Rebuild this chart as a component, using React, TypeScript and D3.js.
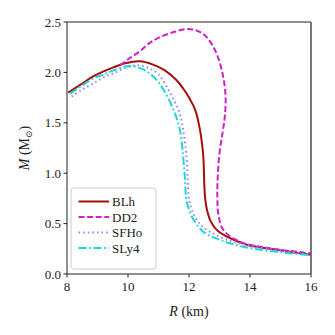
import React from "react";
import * as d3 from "d3";

// mass-radius relations
const blhR = [8.04, 8.5, 8.86, 9.2, 9.52, 9.9, 10.39, 10.8, 11.21, 11.6, 11.81, 12.02, 12.2, 12.36, 12.47, 12.5, 12.53, 12.58, 12.7, 12.9, 13.24, 13.9, 14.88, 16.0];
const blhM = [1.8, 1.89, 1.96, 2.01, 2.05, 2.09, 2.11, 2.08, 2.02, 1.92, 1.84, 1.74, 1.63, 1.43, 1.16, 0.9, 0.75, 0.65, 0.53, 0.44, 0.37, 0.29, 0.24, 0.19];

const dd2R = [9.74, 10.05, 10.39, 10.7, 11.05, 11.5, 11.92, 12.3, 12.58, 12.9, 13.12, 13.2, 13.17, 13.1, 13.0, 12.94, 12.93, 12.96, 13.12, 13.67, 14.66, 16.0];
const dd2M = [2.07, 2.14, 2.21, 2.29, 2.35, 2.4, 2.43, 2.41, 2.35, 2.19, 1.96, 1.75, 1.55, 1.4, 1.2, 0.95, 0.75, 0.6, 0.44, 0.32, 0.255, 0.205];

const sfhoR = [8.15, 8.5, 8.86, 9.2, 9.52, 9.96, 10.35, 10.7, 11.0, 11.32, 11.65, 11.81, 11.92, 11.96, 12.0, 12.14, 12.35, 12.58, 13.24, 14.0, 15.0, 16.0];
const sfhoM = [1.76, 1.83, 1.89, 1.95, 1.99, 2.05, 2.07, 2.04, 1.98, 1.83, 1.63, 1.43, 1.16, 0.93, 0.75, 0.6, 0.5, 0.44, 0.34, 0.28, 0.23, 0.19];

const sly4R = [8.1, 8.5, 8.86, 9.2, 9.52, 9.96, 10.2, 10.5, 10.83, 11.16, 11.49, 11.7, 11.81, 11.87, 11.92, 12.09, 12.47, 13.0, 13.78, 14.88, 16.0];
const sly4M = [1.79, 1.87, 1.94, 1.98, 2.02, 2.06, 2.06, 2.03, 1.96, 1.83, 1.63, 1.43, 1.16, 0.93, 0.73, 0.57, 0.42, 0.34, 0.27, 0.22, 0.185];

const names = ["BLh", "DD2", "SFHo", "SLy4"];
const xTicks = [8, 10, 12, 14, 16];
const yTicks = [0, 0.5, 1.0, 1.5, 2.0, 2.5];

const series = [
  { name: names[0], r: blhR, m: blhM, color: "#aa0c0c", dash: "none" },
  { name: names[1], r: dd2R, m: dd2M, color: "#cc22cc", dash: "6,2.6" },
  { name: names[2], r: sfhoR, m: sfhoM, color: "#8c8cff", dash: "1.6,3" },
  { name: names[3], r: sly4R, m: sly4M, color: "#22d4d4", dash: "8,2.6,1.8,2.6" },
];

const txt = { fontFamily: '"Liberation Serif", "DejaVu Serif", "Times New Roman", Times, serif' };

export default function App() {
  const left = 67, right = 311, top = 22, bottom = 274;
  const x = d3.scaleLinear().domain([8, 16]).range([left, right]);
  const y = d3.scaleLinear().domain([0, 2.5]).range([bottom, top]);

  const line = d3
    .line<[number, number]>()
    .x(d => x(d[0]))
    .y(d => y(d[1]))
    .curve(d3.curveCatmullRom.alpha(0.5));

  return (
    <svg width={335} height={335} style={{ position: "absolute", left: 0, top: 0 }}>
      <rect width={335} height={335} fill="#fff" />
      <defs>
        <clipPath id="plot">
          <rect x={left} y={top} width={right - left} height={bottom - top} />
        </clipPath>
      </defs>
      <g clipPath="url(#plot)">
        {series.map(s => (
          <path
            key={s.name}
            d={line(s.r.map((r, i) => [r, s.m[i]] as [number, number])) || ""}
            fill="none"
            stroke={s.color}
            strokeWidth={2}
            strokeDasharray={s.dash}
          />
        ))}
      </g>
      {/* spines */}
      <line x1={left} x2={right} y1={top} y2={top} stroke="#222" strokeWidth={1} />
      <line x1={left} x2={left} y1={top} y2={bottom} stroke="#222" strokeWidth={1} />
      <line x1={left} x2={right} y1={bottom} y2={bottom} stroke="#222" strokeWidth={1} />
      <line x1={right} x2={right} y1={top} y2={bottom} stroke="#555" strokeWidth={1.6} />
      {xTicks.map(t => (
        <g key={t}>
          <line x1={x(t)} x2={x(t)} y1={bottom} y2={bottom + 3.5} stroke="#222" />
          <text x={x(t)} y={bottom + 17} textAnchor="middle" style={txt} fontSize={13} fill="#222">
            {t}
          </text>
        </g>
      ))}
      {yTicks.map(t => (
        <g key={t}>
          <line x1={left - 3.5} x2={left} y1={y(t)} y2={y(t)} stroke="#222" />
          <text x={left - 6} y={y(t) + 4.5} textAnchor="end" style={txt} fontSize={13} fill="#222">
            {t.toFixed(1)}
          </text>
        </g>
      ))}
      <text x={(left + right) / 2} y={316} textAnchor="middle" style={txt} fontSize={14} fill="#222">
        <tspan fontStyle="italic">R</tspan> (km)
      </text>
      <text
        transform={`translate(29,${(top + bottom) / 2}) rotate(-90)`}
        textAnchor="middle"
        style={txt}
        fontSize={14}
        fill="#222"
      >
        <tspan fontStyle="italic">M</tspan> (M<tspan fontSize={9} dy={3}>⊙</tspan><tspan dy={-3}>)</tspan>
      </text>
      {/* legend */}
      <rect x={71} y={188} width={85} height={81} rx={3} fill="#fff" fillOpacity={0.8} stroke="#ccc" strokeWidth={1} />
      {series.map((s, i) => {
        const ly = 201.5 + i * 15.5;
        return (
          <g key={s.name}>
            <line x1={78.5} x2={109} y1={ly} y2={ly} stroke={s.color} strokeWidth={2} strokeDasharray={s.dash} />
            <text x={112} y={ly + 4.5} style={txt} fontSize={13} fill="#222">
              {s.name}
            </text>
          </g>
        );
      })}
    </svg>
  );
}
